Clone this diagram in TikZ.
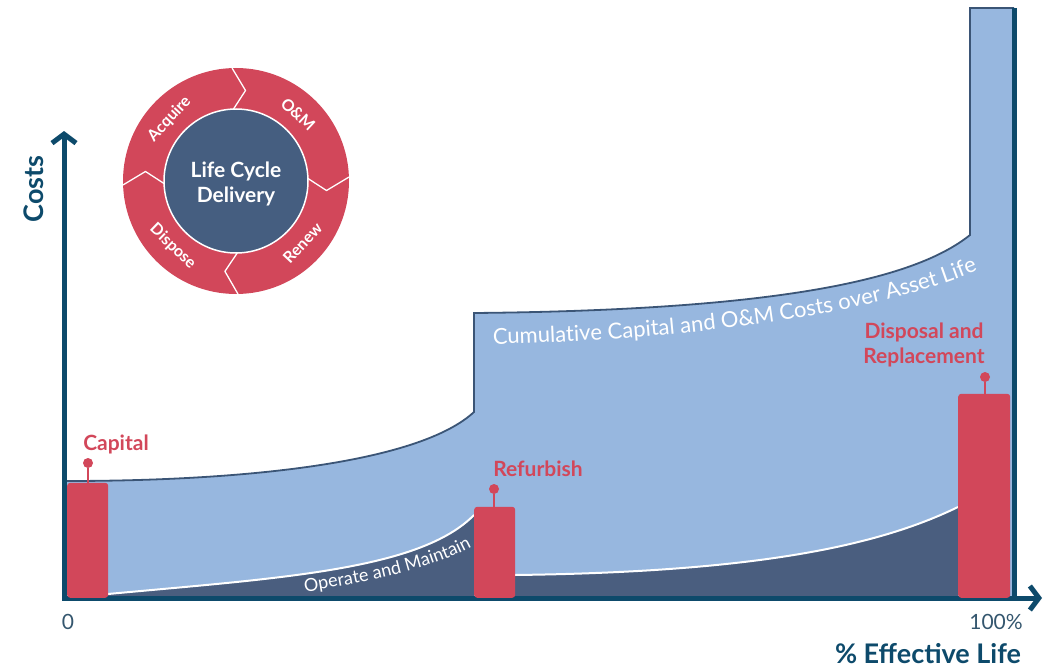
\documentclass[tikz,border=0pt]{standalone}
\usepackage{fontspec}
\setmainfont{Lato}
\usetikzlibrary{
  shapes,
  arrows.meta,
  calc,
  decorations.text,
}
\definecolor{axisblue}{HTML}{0D4A6B}
\definecolor{lcred}{HTML}{D2475A}
\definecolor{lcnavy}{HTML}{455E80}
\definecolor{cumblue}{HTML}{97B7DF}
\definecolor{omblue}{HTML}{4A5E7F}
\definecolor{edgeblue}{HTML}{3B5576}
\definecolor{tickgrey}{HTML}{34566E}

\tikzset{
  costbar/.style={fill=lcred, rounded corners=3pt, inner sep=0pt, anchor=south west},
  pinhead/.style={circle, fill=lcred, inner sep=0pt, minimum size=10pt},
  pinstem/.style={lcred, line width=2.5pt},
  redlabel/.style={text=lcred, font=\fontsize{21}{25}\selectfont\bfseries, align=center},
  axislabel/.style={text=axisblue, font=\fontsize{27}{28}\selectfont\bfseries},
  ticklabel/.style={text=tickgrey, font=\fontsize{21}{22}\selectfont},
  stagelabel/.style={text=white, font=\fontsize{16}{17}\selectfont\bfseries},
  hublabel/.style={text=white, font=\fontsize{21}{25}\selectfont\bfseries, align=center},
}

\begin{document}
\begin{tikzpicture}[x=1pt, y=-1pt]
  \useasboundingbox (0,0) rectangle (1047,669);

  \fill[cumblue] (67,481) .. controls (250,481) and (420,462) .. (474,412)
    -- (474,313) .. controls (800,310) and (920,275) .. (970,235)
    -- (970,8) -- (1014,8) -- (1014,598) -- (67,598) -- cycle;
  \draw[edgeblue, line width=1.8pt] (67,481) .. controls (250,481) and (420,462) .. (474,412)
    -- (474,313) .. controls (800,310) and (920,275) .. (970,235)
    -- (970,8) -- (1014,8);

  \fill[omblue] (67,598) -- (108,594) .. controls (280,578) and (420,570) .. (474,515)
    -- (474,598) -- cycle;
  \fill[omblue] (515,575) .. controls (760,572) and (880,545) .. (958,507)
    -- (958,598) -- (515,598) -- cycle;
  \draw[white, line width=2pt] (108,594) .. controls (280,578) and (420,570) .. (474,515);
  \draw[white, line width=2pt] (515,575) .. controls (760,572) and (880,545) .. (958,507);

  \path[decorate, decoration={text along path, text color=white,
      text={|\fontsize{22}{22}\selectfont|Cumulative Capital and O{\&}M Costs over Asset Life}}]
    (493,344) .. controls (650,341) and (880,321) .. (1000,260);
  \path[decorate, decoration={text along path, text color=white,
      text={|\fontsize{18}{18}\selectfont|Operate and Maintain}}]
    (305,592) .. controls (360,583) and (440,570) .. (490,536);

  \draw[axisblue, line width=5pt] (1014,8) -- (1014,598);
  \draw[axisblue, line width=5pt, line join=miter,
      {Straight Barb[length=9pt, width=24pt]}-{Straight Barb[length=9pt, width=24pt]}]
    (64,131) -- (64,598) -- (1042,598);

  \node[costbar, minimum width=41pt, minimum height=115pt] (capitalbar) at (67,598) {};
  \node[costbar, minimum width=41pt, minimum height=91pt] (refurbbar) at (474,598) {};
  \node[costbar, minimum width=52pt, minimum height=204pt] (disposalbar) at (958,598) {};

  \node[pinhead] (capitalpin) at (88,463) {};
  \node[pinhead] (refurbpin) at (494,489) {};
  \node[pinhead] (disposalpin) at (985,377) {};
  \draw[pinstem] (capitalpin) -- (capitalpin |- capitalbar.north);
  \draw[pinstem] (refurbpin) -- (refurbpin |- refurbbar.north);
  \draw[pinstem] (disposalpin) -- (disposalpin |- disposalbar.north);

  \node[redlabel] (capital) at (116,444) {Capital};
  \node[redlabel] (refurbish) at (538,469) {Refurbish};
  \node[redlabel] (disposal) at (924,345) {Disposal and\\Replacement};

  \node[axislabel, rotate=90] (costs) at (34,189) {Costs};
  \node[axislabel] (efflife) at (928,654) {\% Effective Life};
  \node[ticklabel] (zero) at (68,622) {0};
  \node[ticklabel] (hundred) at (996,622) {100\%};

  \begin{scope}[shift={(236,181)}, y=1pt]
    \fill[lcred] (0,0) circle (113);
    \foreach \a in {92,2,-89,182}{
        \draw[white, line width=1.3pt, line join=round] (\a:113) -- (\a-8:91) -- (\a:72);
      }
    \filldraw[fill=lcnavy, draw=white, line width=1.5pt] (0,0) circle (72);
    \node[hublabel] (hub) at (0,-3) {Life Cycle\\Delivery};
    \foreach \ang/\rot/\txt in {137/47/Acquire, 47/-43/O\&M, -43/47/Renew, -134/-44/Dispose}{
        \node[stagelabel, rotate=\rot] at (\ang:91) {\txt};
      }
  \end{scope}
\end{tikzpicture}
\end{document}
